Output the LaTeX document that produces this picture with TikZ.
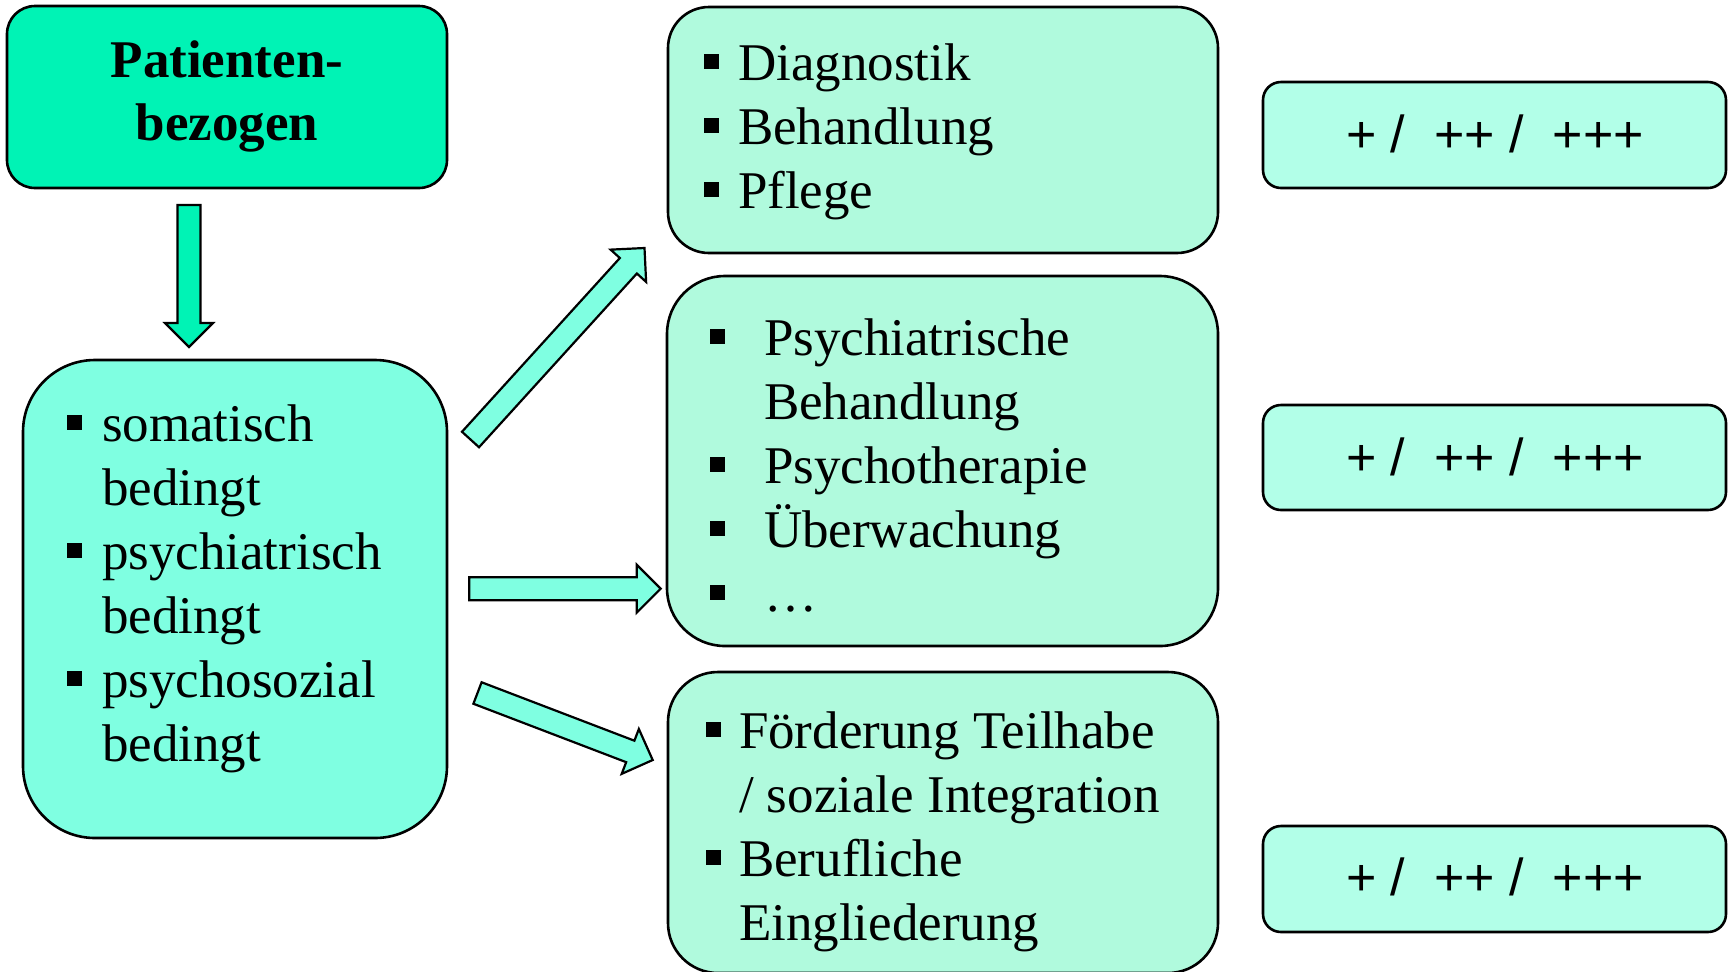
\documentclass[tikz,border=0pt]{standalone}
\usepackage{fontspec}
\setmainfont{Liberation Serif}
\newfontfamily\plusfont{Liberation Sans}
\usetikzlibrary{calc}

\definecolor{headfill}{RGB}{0,243,181}
\definecolor{leftfill}{RGB}{127,255,225}
\definecolor{midfill}{RGB}{176,250,221}
\definecolor{ratefill}{RGB}{178,255,232}

% bullet lists: square bullet with hanging indent, fixed line pitch
\newlength\bulind
\newcommand\bul{\raisebox{5.5pt}{\rule{7.5pt}{7.5pt}}}
\newcommand\itm[1]{\hbox{\makebox[\bulind][l]{\bul}#1}}
\newcommand\cnt[1]{\hbox{\hspace*{\bulind}#1}}
\newcommand\lines[2]{\vtop{\setlength\bulind{#1}\baselineskip=32pt\lineskiplimit=-100pt #2}}

% block arrow from a tail coordinate to a tip coordinate
\newcommand\blockarrow[3]{%
  \coordinate (#1-hb) at ($(#2)!12pt!(#1)$);
  \filldraw[arrowline, fill=#3]
    ($(#1)!5.75pt!90:(#2)$) -- ($(#1-hb)!5.75pt!90:(#2)$) --
    ($(#1-hb)!12pt!90:(#2)$) -- (#2) --
    ($(#1-hb)!12pt!-90:(#2)$) -- ($(#1-hb)!5.75pt!-90:(#2)$) --
    ($(#1)!5.75pt!-90:(#2)$) -- cycle;
}

\begin{document}
\begin{tikzpicture}[x=0.5pt,y=-0.5pt,
  panel/.style={draw=black, line width=1.3pt, inner sep=0pt},
  arrowline/.style={draw=black, line width=1.1pt, line join=miter},
  txt/.style={inner sep=0pt, outer sep=0pt, font=\fontsize{26.5pt}{32pt}\selectfont},
  ratetxt/.style={inner sep=0pt, outer sep=0pt, font=\plusfont\fontsize{26pt}{30pt}\selectfont},
]
\useasboundingbox (0,0) rectangle (1736,971);
\clip (0,0) rectangle (1736,971);

% boxes
\node[panel, fill=headfill, rounded corners=14pt, minimum width=220pt, minimum height=91pt] (head) at (227,97) {};
\node[panel, fill=leftfill, rounded corners=36pt, minimum width=212pt, minimum height=239pt] (left) at (235,599) {};
\node[panel, fill=midfill, rounded corners=20.5pt, minimum width=275pt, minimum height=123pt] (care) at (943,130) {};
\node[panel, fill=midfill, rounded corners=29pt, minimum width=275.5pt, minimum height=185pt] (psych) at (942.5,461) {};
\node[panel, fill=midfill, rounded corners=25pt, minimum width=275pt, minimum height=150.5pt] (social) at (943,822.5) {};
\node[panel, fill=ratefill, rounded corners=9pt, minimum width=231.5pt, minimum height=53pt] (rate1) at (1494.5,135) {};
\node[panel, fill=ratefill, rounded corners=9pt, minimum width=231.5pt, minimum height=52.5pt] (rate2) at (1494.5,457.5) {};
\node[panel, fill=ratefill, rounded corners=9pt, minimum width=231.5pt, minimum height=53pt] (rate3) at (1494.5,879) {};

% heading
\node[txt, anchor=base, font=\bfseries\fontsize{26.5pt}{32pt}\selectfont] (head1) at (227,77) {Patienten-};
\node[txt, anchor=base, font=\bfseries\fontsize{26.5pt}{32pt}\selectfont] (head2) at (227,140) {bezogen};

% lists
\node[txt, anchor=base west] (lefttxt) at (67,441)
  {\lines{17.5pt}{\itm{somatisch}\cnt{bedingt}\itm{psychiatrisch}\cnt{bedingt}\itm{psychosozial}\cnt{bedingt}}};
\node[txt, anchor=base west] (caretxt) at (704,80)
  {\lines{17pt}{\itm{Diagnostik}\itm{Behandlung}\itm{Pflege}}};
\node[txt, anchor=base west] (psychtxt) at (710,355)
  {\lines{27pt}{\itm{Psychiatrische}\cnt{Behandlung}\itm{Psychotherapie}\itm{Überwachung}\itm{…}}};
\node[txt, anchor=base west] (socialtxt) at (706,748)
  {\lines{16.5pt}{\itm{Förderung Teilhabe}\cnt{/ soziale Integration}\itm{Berufliche}\cnt{Eingliederung}}};

% ratings
\node[ratetxt, anchor=base] (rate1txt) at (1495,152) {+ /\ \ ++ /\ \ +++};
\node[ratetxt, anchor=base] (rate2txt) at (1495,475) {+ /\ \ ++ /\ \ +++};
\node[ratetxt, anchor=base] (rate3txt) at (1495,895) {+ /\ \ ++ /\ \ +++};

% block arrows
\coordinate (dn) at (189,205);  \coordinate (dnp) at (189,347);
\coordinate (up) at (470.5,439.5); \coordinate (upp) at (644.5,248);
\coordinate (rt) at (469.3,588.7); \coordinate (rtp) at (660.7,588.7);
\coordinate (lo) at (477.5,693); \coordinate (lop) at (652.7,760);
\blockarrow{dn}{dnp}{headfill}
\blockarrow{up}{upp}{leftfill}
\blockarrow{rt}{rtp}{leftfill}
\blockarrow{lo}{lop}{leftfill}
\end{tikzpicture}
\end{document}
